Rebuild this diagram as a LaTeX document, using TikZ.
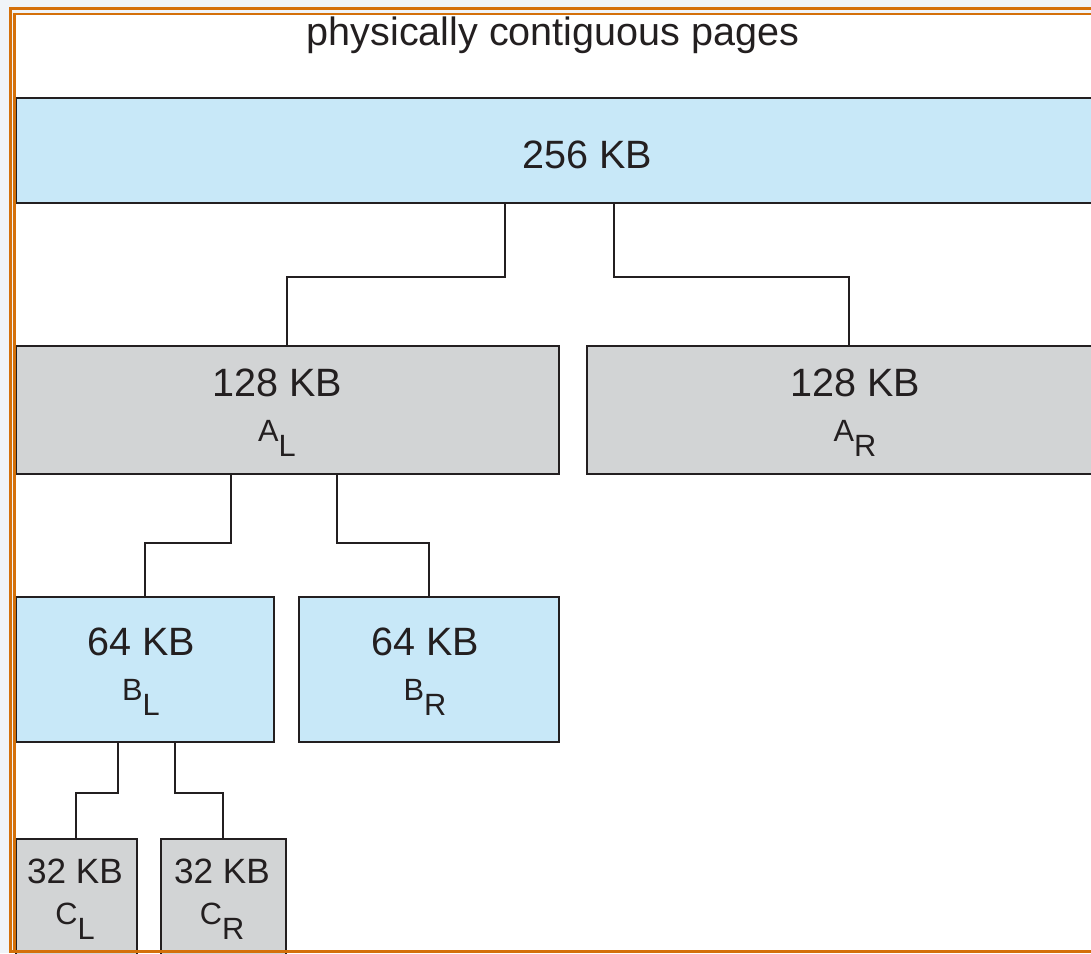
\documentclass[tikz,border=0pt]{standalone}
\usepackage{fontspec}
\setmainfont{Liberation Sans}
\usetikzlibrary{positioning}
\definecolor{memblue}{HTML}{C8E8F8}
\definecolor{memgrey}{HTML}{D2D4D5}
\definecolor{frameorange}{HTML}{D4700A}
\definecolor{pagebg}{HTML}{F0F4F8}
\definecolor{inkgrey}{HTML}{231F20}
\newcommand{\sizetxt}[1]{{\fontsize{22.5}{24}\selectfont #1}}
\newcommand{\halftxt}[2]{{\fontsize{17.5}{18}\selectfont #1\raisebox{-0.5em}{#2}}}
\tikzset{
  every node/.style={text=inkgrey},
  blk/.style={draw=inkgrey, line width=1.1pt, inner sep=0pt, anchor=north west, align=center},
  freeblk/.style={blk, fill=memblue},
  usedblk/.style={blk, fill=memgrey},
  link/.style={draw=inkgrey, line width=1.1pt}
}
\begin{document}
\begin{tikzpicture}[x=0.02cm,y=-0.02cm]
    \useasboundingbox (0,0) rectangle (1091,953);
    \clip (0,0) rectangle (1091,953);
    \fill[pagebg] (0,0) rectangle (1091,953);
    \fill[white] (14,14) rectangle (1100,950);
    % title
    \node (title) at (553,35) {\sizetxt{physically contiguous pages}};
    % blocks
    \node[freeblk, minimum width=22.9cm, minimum height=2.1cm] (whole) at (15,97) {};
    \node (wholetxt) at (587,155) {\sizetxt{256 KB}};
    \node[usedblk, minimum width=10.86cm, minimum height=2.56cm] (al) at (15,345) {};
    \node[usedblk, minimum width=10.48cm, minimum height=2.56cm] (ar) at (586,345) {};
    \node[freeblk, minimum width=5.16cm, minimum height=2.9cm] (bl) at (15,596) {};
    \node[freeblk, minimum width=5.2cm, minimum height=2.9cm] (br) at (298,596) {};
    \node[usedblk, minimum width=2.42cm, minimum height=2.4cm] (cl) at (15,838) {};
    \node[usedblk, minimum width=2.5cm, minimum height=2.4cm] (cr) at (160,838) {};
    % labels
    \node (altxt) at (277,383) {\sizetxt{128 KB}};
    \node[below=6pt of altxt] (alname) {\halftxt{A}{L}};
    \node (artxt) at (855,383) {\sizetxt{128 KB}};
    \node[below=6pt of artxt] (arname) {\halftxt{A}{R}};
    \node (bltxt) at (141,642) {\sizetxt{64 KB}};
    \node[below=6pt of bltxt] (blname) {\halftxt{B}{L}};
    \node (brtxt) at (425,642) {\sizetxt{64 KB}};
    \node[below=6pt of brtxt] (brname) {\halftxt{B}{R}};
    \node (cltxt) at (75,871) {{\fontsize{20}{22}\selectfont 32 KB}};
    \node[below=4pt of cltxt] (clname) {\halftxt{C}{L}};
    \node (crtxt) at (222,871) {{\fontsize{20}{22}\selectfont 32 KB}};
    \node[below=4pt of crtxt] (crname) {\halftxt{C}{R}};
    % splits
    \draw[link] (505,0 |- whole.south) -- (505,277) -| (al.north);
    \draw[link] (614,0 |- whole.south) -- (614,277) -| (ar.north);
    \draw[link] (231,0 |- al.south) -- (231,543) -| (bl.north);
    \draw[link] (337,0 |- al.south) -- (337,543) -| (br.north);
    \draw[link] (118,0 |- bl.south) -- (118,793) -| (cl.north);
    \draw[link] (175,0 |- bl.south) -- (175,793) -| (cr.north);
    % frame
    \draw[frameorange, line width=1.8pt] (10.5,8.5) rectangle (1120,951.5);
    \draw[frameorange, line width=1.2pt] (14.5,14) rectangle (1120,951);
\end{tikzpicture}
\end{document}
